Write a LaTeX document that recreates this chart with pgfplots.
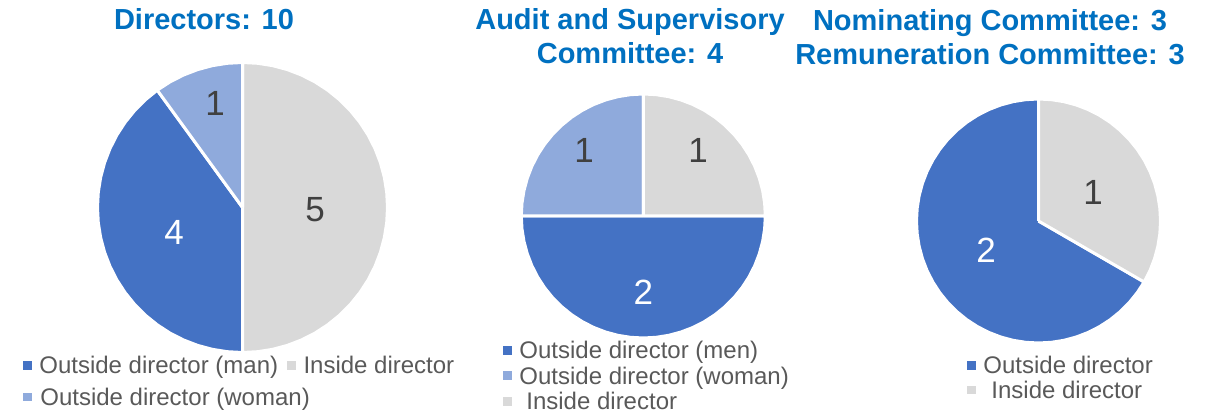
\documentclass[border=0pt]{standalone}
\usepackage{fontspec}
\setmainfont{Liberation Sans}
\usepackage{pgfplots}
\pgfplotsset{compat=1.18}
\usepgfplotslibrary{polar}
\definecolor{piblue}{HTML}{4472C4}
\definecolor{pilight}{HTML}{8FAADC}
\definecolor{pigray}{HTML}{D9D9D9}
\definecolor{titleblue}{HTML}{0070C0}
\definecolor{labeldark}{HTML}{404040}
\definecolor{legendgray}{HTML}{595959}

\pgfplotsset{
  pie/.style={hide axis, x=0.5pt, y=0.5pt,
    xmin=-150, xmax=150, ymin=-150, ymax=150,
    clip=false, anchor=center, data cs=polar,
    legend cell align=left,
    legend image code/.code={\path[##1,draw=none] (0pt,-2.2pt) rectangle (4.4pt,2.2pt);},
    legend style={draw=none, fill=none, inner sep=0pt, outer sep=0pt,
      anchor=north west, font=\fontsize{12}{13}\selectfont, text=legendgray,
      nodes={inner sep=0pt, text height=9.45pt, text depth=1pt},
      /tikz/every odd column/.append style={column sep=3.8pt}}},
  wedge/.style={fill=#1, draw=white, line width=1.5pt, line join=round},
  pielabel/.style={data cs=cart, draw=none, mark=none, forget plot,
    nodes near coords, point meta=explicit symbolic,
    nodes near coords style={anchor=center, inner sep=0pt,
      font=\fontsize{17.5}{20}\selectfont, text=#1}},
}

\begin{document}
\begin{tikzpicture}
\useasboundingbox (0,0) rectangle (604.5pt,205pt);

\node[font=\bfseries\fontsize{14.5}{17}\selectfont, text=titleblue, inner sep=0pt]
  at (102pt,195.5pt) {Directors: 10};
\node[font=\bfseries\fontsize{14.5}{17}\selectfont, text=titleblue, inner sep=0pt, align=center]
  at (315pt,186.75pt) {Audit and Supervisory\\Committee: 4};
\node[font=\bfseries\fontsize{14.5}{17}\selectfont, text=titleblue, inner sep=0pt, align=center]
  at (495pt,186.5pt) {Nominating Committee: 3\\Remuneration Committee: 3};

% Directors: 10  (man 4, inside 5, woman 1)
\begin{axis}[pie, at={(121.25pt,101.25pt)}, legend columns=2,
  legend style={at={(-0.2317,0.0093)}, row sep=5.5pt,
    /tikz/every even column/.append style={column sep=4.5pt}}]
  \addplot[wedge=piblue] coordinates {(0,0) (126,145) (132,145) (138,145) (144,145) (150,145) (156,145) (162,145) (168,145) (174,145) (180,145) (186,145) (192,145) (198,145) (204,145) (210,145) (216,145) (222,145) (228,145) (234,145) (240,145) (246,145) (252,145) (258,145) (264,145) (270,145) (0,0)};
  \addlegendentry{Outside director (man)}
  \addplot[wedge=pigray] coordinates {(0,0) (-90,145) (-84,145) (-78,145) (-72,145) (-66,145) (-60,145) (-54,145) (-48,145) (-42,145) (-36,145) (-30,145) (-24,145) (-18,145) (-12,145) (-6,145) (0,145) (6,145) (12,145) (18,145) (24,145) (30,145) (36,145) (42,145) (48,145) (54,145) (60,145) (66,145) (72,145) (78,145) (84,145) (90,145) (0,0)};
  \addlegendentry{Inside director}
  \addplot[wedge=pilight] coordinates {(0,0) (90,145) (96,145) (102,145) (108,145) (114,145) (120,145) (126,145) (0,0)};
  \addlegendentry{\rlap{Outside director (woman)}}
  \addplot[pielabel=white] coordinates {(-68.5,-24.5) [4]};
  \addplot[pielabel=labeldark] coordinates {(-27.5,104.5) [1] (72.5,-2.5) [5]};
\end{axis}

% Audit and Supervisory Committee: 4  (men 2, woman 1, inside 1)
\begin{axis}[pie, at={(321.65pt,97pt)},
  legend style={at={(0.0323,0.0877)}, row sep=2.4pt}]
  \addplot[wedge=piblue] coordinates {(0,0) (180,122) (186,122) (192,122) (198,122) (204,122) (210,122) (216,122) (222,122) (228,122) (234,122) (240,122) (246,122) (252,122) (258,122) (264,122) (270,122) (276,122) (282,122) (288,122) (294,122) (300,122) (306,122) (312,122) (318,122) (324,122) (330,122) (336,122) (342,122) (348,122) (354,122) (360,122) (0,0)};
  \addlegendentry{Outside director (men)}
  \addplot[wedge=pilight] coordinates {(0,0) (90,122) (96,122) (102,122) (108,122) (114,122) (120,122) (126,122) (132,122) (138,122) (144,122) (150,122) (156,122) (162,122) (168,122) (174,122) (180,122) (0,0)};
  \addlegendentry{Outside director (woman)}
  \addplot[wedge=pigray] coordinates {(0,0) (0,122) (6,122) (12,122) (18,122) (24,122) (30,122) (36,122) (42,122) (48,122) (54,122) (60,122) (66,122) (72,122) (78,122) (84,122) (90,122) (0,0)};
  \addlegendentry{\hspace*{3.5pt}Inside director}
  \addplot[pielabel=white] coordinates {(0,-76) [2]};
  \addplot[pielabel=labeldark] coordinates {(-59.3,66) [1] (54.7,66) [1]};
\end{axis}

% Nominating / Remuneration Committee: 3  (outside 2, inside 1)
\begin{axis}[pie, at={(519.25pt,94.5pt)},
  legend style={at={(0.2617,0.0543)}, row sep=2.0pt}]
  \addplot[wedge=piblue] coordinates {(0,0) (90,122) (96,122) (102,122) (108,122) (114,122) (120,122) (126,122) (132,122) (138,122) (144,122) (150,122) (156,122) (162,122) (168,122) (174,122) (180,122) (186,122) (192,122) (198,122) (204,122) (210,122) (216,122) (222,122) (228,122) (234,122) (240,122) (246,122) (252,122) (258,122) (264,122) (270,122) (276,122) (282,122) (288,122) (294,122) (300,122) (306,122) (312,122) (318,122) (324,122) (330,122) (0,0)};
  \addlegendentry{Outside director}
  \addplot[wedge=pigray] coordinates {(0,0) (-30,122) (-24,122) (-18,122) (-12,122) (-6,122) (0,122) (6,122) (12,122) (18,122) (24,122) (30,122) (36,122) (42,122) (48,122) (54,122) (60,122) (66,122) (72,122) (78,122) (84,122) (90,122) (0,0)};
  \addlegendentry{\hspace*{4pt}Inside director}
  \addplot[pielabel=white] coordinates {(-52.5,-29) [2]};
  \addplot[pielabel=labeldark] coordinates {(54.5,29) [1]};
\end{axis}
\end{tikzpicture}
\end{document}
